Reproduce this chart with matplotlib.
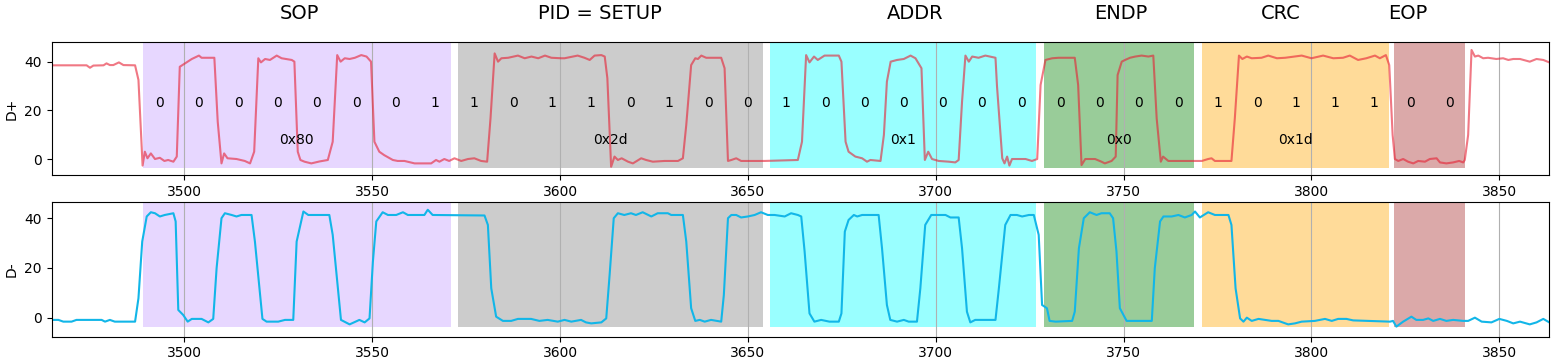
import matplotlib
matplotlib.use("Agg")
import matplotlib.pyplot as plt
import matplotlib.transforms as mtransforms

# USB packet sections (x in sample units)
SECTION_NAMES = ["SOP", "PID = SETUP", "ADDR", "ENDP", "CRC", "EOP"]
SECTION_START = [3489.0, 3572.9, 3655.9, 3728.8, 3770.9, 3822.0]
SECTION_END = [3570.9, 3653.9, 3726.8, 3768.7, 3820.7, 3840.8]
SECTION_BITS = ["00000001", "10110100", "1000000", "0000", "10111", "00"]
SECTION_HEX = ["0x80", "0x2d", "0x1", "0x0", "0x1d", ""]
SECTION_COLORS = ["#c59bff", "gray", "cyan", "green", "orange", "brown"]
TITLE_X = [3530.7, 3610.7, 3694.4, 3749.3, 3791.8, 3825.6]

# D+ trace
DP_X = [3464.7, 3474.0, 3474.9, 3475.8, 3478.5, 3479.3, 3480.2, 3481.1, 3482.6, 3483.8,
        3486.9, 3487.8, 3488.9, 3489.5, 3490.2, 3491.1, 3492.2, 3493.5, 3494.7, 3495.7,
        3497.1, 3498.0, 3498.8, 3500.2, 3502.0, 3503.9, 3504.6, 3508.0, 3508.9, 3509.9,
        3510.6, 3511.5, 3513.9, 3516.1, 3517.5, 3518.6, 3519.7, 3520.4, 3521.5, 3522.8,
        3524.6, 3525.9, 3528.6, 3529.3, 3530.2, 3530.9, 3532.0, 3533.8, 3536.0, 3538.2,
        3539.5, 3540.7, 3541.6, 3542.7, 3544.0, 3545.4, 3547.1, 3548.5, 3549.7, 3550.6,
        3551.9, 3553.2, 3555.5, 3556.8, 3558.6, 3561.3, 3565.7, 3567.0, 3567.9, 3569.2,
        3570.5, 3571.9, 3573.7, 3575.5, 3577.2, 3579.0, 3580.6, 3581.5, 3582.6, 3583.5,
        3584.4, 3586.2, 3588.8, 3590.6, 3592.4, 3594.2, 3596.0, 3597.7, 3600.3, 3601.2,
        3604.7, 3606.5, 3607.9, 3609.2, 3611.0, 3611.9, 3612.6, 3613.6, 3614.5, 3615.4,
        3616.4, 3618.1, 3619.4, 3621.6, 3622.9, 3624.7, 3627.8, 3631.4, 3632.7, 3633.6,
        3634.9, 3636.0, 3636.7, 3637.6, 3638.9, 3642.9, 3643.8, 3644.7, 3645.6, 3646.9,
        3648.2, 3654.4, 3663.3, 3664.4, 3665.5, 3666.4, 3667.6, 3668.6, 3670.4, 3674.2,
        3674.9, 3676.0, 3676.8, 3678.6, 3680.4, 3681.7, 3682.6, 3685.3, 3686.2, 3687.0,
        3688.0, 3689.7, 3691.5, 3693.3, 3694.6, 3696.2, 3697.1, 3698.0, 3699.0, 3700.8,
        3703.5, 3705.2, 3706.1, 3707.0, 3707.9, 3708.8, 3709.7, 3711.4, 3713.2, 3715.9,
        3716.3, 3717.7, 3718.3, 3719.0, 3719.6, 3720.3, 3722.1, 3723.9, 3725.6, 3727.0,
        3727.9, 3729.2, 3731.0, 3732.7, 3737.0, 3737.9, 3738.8, 3739.8, 3742.4, 3744.1,
        3745.0, 3746.8, 3747.9, 3748.4, 3749.5, 3750.4, 3751.7, 3753.1, 3754.8, 3756.6,
        3757.9, 3758.8, 3759.9, 3760.5, 3761.9, 3766.3, 3770.8, 3772.5, 3773.4, 3774.3,
        3778.7, 3779.6, 3780.7, 3781.6, 3782.8, 3784.1, 3786.7, 3788.5, 3790.8, 3793.0,
        3797.4, 3800.0, 3803.1, 3805.8, 3808.4, 3810.2, 3812.4, 3814.6, 3816.9, 3818.2,
        3819.8, 3820.7, 3821.6, 3822.2, 3823.1, 3824.4, 3825.7, 3827.1, 3828.4, 3830.2,
        3831.5, 3833.3, 3834.2, 3835.9, 3837.7, 3839.3, 3840.4, 3840.8, 3841.7, 3842.6,
        3843.5, 3844.4, 3845.7, 3847.0, 3849.2, 3851.0, 3852.4, 3853.7, 3855.5, 3858.1,
        3859.9, 3861.7, 3863.3]
DP_Y = [38.5, 38.5, 37.5, 38.4, 38.5, 39.3, 38.6, 38.6, 39.7, 38.6,
        38.5, 32.5, -2.7, 3.0, 0.3, 2.3, 0.0, 0.5, -0.8, -0.4,
        -1.1, 1.0, 37.9, 39.3, 41.1, 42.5, 41.6, 41.6, 15.3, -1.8,
        2.3, 0.3, 0.0, -0.8, -1.8, 3.0, 41.4, 39.7, 41.1, 40.7,
        42.5, 41.4, 40.7, 40.0, 3.0, -0.4, -1.1, -1.8, -1.0, -0.4,
        7.1, 42.7, 40.0, 41.4, 41.1, 41.6, 42.7, 42.1, 40.0, 7.1,
        3.0, 1.6, -0.4, -0.8, -0.8, -1.8, -1.8, -0.4, -1.1, 0.0,
        -0.8, 0.3, -0.8, 0.0, 0.3, -0.8, -1.1, 16.7, 43.4, 40.0,
        41.4, 41.6, 42.5, 41.4, 42.1, 41.4, 42.5, 41.6, 41.4, 41.4,
        42.5, 41.6, 40.7, 42.5, 42.7, 42.1, 33.2, -3.2, 1.0, -0.4,
        0.3, -1.1, -1.8, 0.3, -0.4, -1.1, -0.8, -0.8, 0.3, 14.0,
        38.6, 41.4, 41.1, 42.5, 41.6, 41.6, 37.3, -0.8, -0.4, 0.3,
        -0.8, -0.8, -0.4, 7.1, 42.7, 39.7, 42.1, 40.7, 42.5, 42.5,
        40.0, 7.1, 3.0, 1.0, 0.3, -1.1, -0.4, -0.8, 9.9, 31.8,
        40.0, 40.7, 41.1, 42.5, 41.4, 37.3, -0.4, 3.0, 0.0, -0.8,
        -1.1, -1.4, -0.4, 23.6, 42.5, 40.0, 42.1, 41.6, 42.5, 41.6,
        30.0, 0.3, -1.8, 1.0, -2.7, 0.0, 0.0, 0.0, -0.8, 0.0,
        30.4, 40.7, 41.4, 41.6, 41.6, 30.4, -2.5, 0.0, 0.0, -1.1,
        -1.8, -0.8, 1.0, 34.5, 40.0, 40.7, 41.6, 42.1, 42.5, 42.1,
        42.5, 16.7, -1.1, 1.0, -0.8, -0.8, -0.8, 0.0, 0.3, -0.8,
        -0.8, 16.7, 42.5, 41.1, 42.1, 41.4, 41.6, 42.5, 41.4, 41.6,
        42.5, 41.4, 42.5, 41.4, 41.6, 42.5, 40.7, 41.4, 42.5, 41.4,
        42.7, 38.6, 9.9, 0.0, -0.8, 0.0, -1.1, -1.8, -0.8, -1.1,
        0.0, 0.3, -1.4, -1.8, -1.4, -0.8, -1.4, -0.4, 9.9, 44.8,
        42.1, 42.5, 41.4, 41.6, 41.1, 41.4, 40.7, 41.1, 41.1, 40.0,
        41.1, 40.7, 39.7]

# D- trace
DM_X = [3464.7, 3466.5, 3467.8, 3470.0, 3471.3, 3478.0, 3478.9, 3480.2, 3481.5, 3486.9,
        3487.8, 3488.8, 3490.0, 3491.1, 3492.2, 3493.5, 3494.8, 3497.1, 3497.7, 3498.4,
        3499.7, 3500.9, 3502.0, 3504.6, 3506.4, 3507.7, 3508.6, 3509.9, 3510.8, 3512.6,
        3513.9, 3515.2, 3517.9, 3518.8, 3520.8, 3521.9, 3525.0, 3526.8, 3529.0, 3529.9,
        3531.7, 3533.0, 3538.6, 3539.5, 3541.7, 3544.0, 3546.6, 3548.0, 3549.3, 3550.2,
        3551.1, 3552.8, 3554.2, 3556.4, 3558.2, 3559.5, 3563.9, 3564.8, 3566.1, 3579.9,
        3580.8, 3581.7, 3583.0, 3584.8, 3587.0, 3588.8, 3592.3, 3594.5, 3596.7, 3599.4,
        3601.2, 3603.0, 3605.6, 3606.9, 3608.3, 3611.0, 3612.3, 3613.2, 3614.3, 3615.4,
        3617.1, 3618.9, 3620.2, 3622.0, 3624.3, 3626.0, 3628.7, 3629.6, 3632.7, 3633.6,
        3634.9, 3636.0, 3637.2, 3638.5, 3640.2, 3642.9, 3643.6, 3644.7, 3645.6, 3646.9,
        3648.2, 3650.0, 3651.8, 3653.5, 3655.3, 3657.1, 3659.8, 3661.5, 3663.3, 3664.2,
        3665.1, 3666.4, 3667.7, 3669.5, 3671.7, 3674.2, 3674.9, 3675.8, 3676.8, 3678.2,
        3679.1, 3680.4, 3684.8, 3685.7, 3687.0, 3687.9, 3689.7, 3691.5, 3692.8, 3695.0,
        3695.9, 3697.2, 3698.8, 3702.6, 3703.9, 3706.1, 3707.0, 3708.3, 3709.2, 3710.5,
        3715.9, 3716.8, 3718.5, 3719.9, 3721.6, 3723.0, 3724.8, 3726.1, 3727.4, 3728.3,
        3729.6, 3730.3, 3731.9, 3736.3, 3737.0, 3738.1, 3739.4, 3741.0, 3742.8, 3744.1,
        3746.3, 3747.2, 3748.1, 3749.0, 3750.8, 3757.5, 3758.3, 3759.7, 3760.6, 3762.8,
        3764.6, 3766.3, 3768.1, 3769.0, 3770.3, 3772.5, 3774.3, 3777.9, 3778.7, 3779.8,
        3781.0, 3781.9, 3782.8, 3784.1, 3785.9, 3787.6, 3789.4, 3791.2, 3793.8, 3795.6,
        3797.4, 3800.9, 3803.6, 3805.4, 3807.1, 3809.3, 3811.1, 3820.9, 3821.7, 3822.6,
        3824.4, 3826.6, 3827.9, 3829.7, 3831.1, 3832.4, 3834.2, 3835.9, 3837.7, 3840.4,
        3841.7, 3843.5, 3845.3, 3847.9, 3850.0, 3852.0, 3853.7, 3855.5, 3858.1, 3859.9,
        3861.7, 3863.3]
DM_Y = [-0.9, -0.9, -1.6, -1.6, -0.9, -0.9, -1.6, -0.9, -1.6, -1.6,
        7.8, 30.6, 40.7, 42.4, 42.0, 40.7, 41.3, 42.0, 38.7, 3.1,
        1.1, -1.6, -0.5, -0.5, -1.9, -0.5, 19.9, 40.0, 42.0, 41.3,
        40.7, 41.3, 41.3, 30.6, -0.5, -1.6, -1.6, -0.9, -0.9, 30.6,
        42.7, 41.3, 41.3, 33.3, -0.9, -2.7, -0.9, -1.9, -0.3, 22.6,
        38.7, 42.4, 41.3, 41.3, 42.4, 41.3, 41.3, 43.4, 41.3, 41.1,
        37.3, 11.8, 0.4, -1.3, -1.3, -0.5, -0.5, -1.3, -0.9, -1.6,
        -0.9, -1.6, -0.9, -1.9, -2.3, -1.9, -0.3, 17.2, 40.0, 42.0,
        41.3, 42.0, 41.3, 42.4, 40.7, 42.0, 42.0, 41.3, 41.3, 30.6,
        3.8, -1.3, -0.9, -1.6, -0.9, -1.6, 9.1, 40.0, 41.3, 41.3,
        40.3, 40.7, 41.3, 42.4, 41.3, 41.3, 40.7, 42.0, 41.3, 40.7,
        26.6, 1.7, -1.6, -0.9, -1.6, -1.6, 1.7, 34.6, 39.3, 41.3,
        40.7, 41.3, 41.3, 27.9, 5.1, -0.9, -1.6, -0.9, -1.6, -1.6,
        11.8, 37.3, 41.3, 41.3, 40.3, 40.3, 27.9, 2.4, -1.9, -0.9,
        -0.9, 11.8, 37.3, 41.3, 41.3, 40.7, 41.3, 41.3, 33.3, 5.1,
        3.8, -1.3, -1.6, -1.3, 2.4, 27.9, 40.0, 42.4, 41.3, 42.0,
        42.0, 40.0, 26.6, 3.8, -1.3, -1.3, 19.9, 38.7, 40.7, 40.7,
        41.3, 40.3, 41.3, 42.7, 40.3, 42.4, 41.3, 41.3, 37.3, 11.8,
        -0.3, -1.6, 0.0, -1.3, -0.5, -0.9, -1.3, -1.3, -2.7, -2.3,
        -1.6, -1.3, -0.5, -1.3, -0.5, -0.5, -1.1, -1.6, -1.3, -3.6,
        -1.6, 0.4, -0.9, -0.9, -0.3, -1.3, -0.5, -1.3, -0.9, -1.3,
        -1.3, 0.0, -1.6, -1.9, -0.5, -1.3, -2.3, -1.6, -2.7, -1.9,
        -0.5, -1.9]

X_LIM = (3464.7, 3863.3)
SPAN_BOTTOM = -3.7


def draw_sections(ax, span_top):
    """ Shade every packet section on one axis. """
    for start, end, color in zip(SECTION_START, SECTION_END, SECTION_COLORS):
        ax.fill_between([start, end], SPAN_BOTTOM, span_top, color=color,
                        alpha=0.4, linewidth=0)


fig = plt.figure(figsize=(15.56, 3.63), dpi=100)
ax_p = fig.add_axes([0.0332, 0.5179, 0.9625, 0.3672])
ax_m = fig.add_axes([0.0332, 0.0725, 0.9625, 0.3702])

draw_sections(ax_p, 47.9)
draw_sections(ax_m, 46.0)

ax_p.plot(DP_X, DP_Y, color="#e61e32", alpha=0.6, lw=1.5)
ax_m.plot(DM_X, DM_Y, color="#12b6e8", lw=1.5)

for ax in (ax_p, ax_m):
    ax.set_xlim(X_LIM)
    ax.set_yticks([0, 20, 40])
    ax.grid(axis="x")

ax_p.set_ylim(-6.57, 48.2)
ax_m.set_ylim(-7.65, 46.4)
ax_p.set_ylabel("D+")
ax_m.set_ylabel("D-")

# section titles, bit values and hex values
title_tf = mtransforms.blended_transform_factory(ax_p.transData, ax_p.transAxes)
for i, name in enumerate(SECTION_NAMES):
    ax_p.text(TITLE_X[i], 1.168, name, transform=title_tf, ha="center",
              va="baseline", fontsize=14)
    start = SECTION_START[i]
    bits = SECTION_BITS[i]
    period = (SECTION_END[i] + 2.0 - start) / len(bits)
    for k, b in enumerate(bits):
        ax_p.text(start + (k + 0.5) * period - 0.9, 21.5, b, ha="center",
                  va="baseline", fontsize=10)
    if SECTION_HEX[i]:
        ax_p.text((start + SECTION_END[i]) / 2, 6.2, SECTION_HEX[i],
                  ha="center", va="baseline", fontsize=10)

plt.savefig("out.png", dpi=100)
